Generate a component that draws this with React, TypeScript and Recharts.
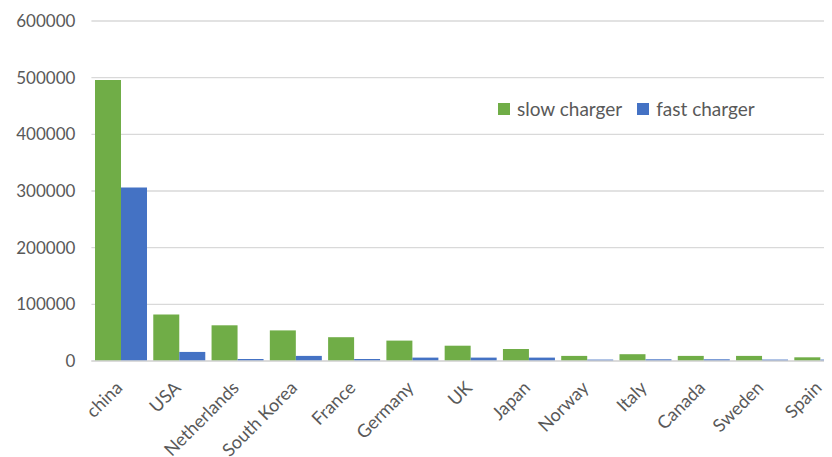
import { BarChart, Bar, XAxis, YAxis, CartesianGrid } from 'recharts';

const countries = ['china', 'USA', 'Netherlands', 'South Korea', 'France', 'Germany', 'UK', 'Japan', 'Norway', 'Italy', 'Canada', 'Sweden', 'Spain'];
const slowCharger = [496000, 82000, 63000, 54000, 42000, 36000, 27000, 21000, 9000, 12000, 9000, 9000, 6500];
const fastCharger = [306000, 16000, 3500, 9000, 3500, 6000, 6000, 6000, 2500, 3000, 3000, 2500, 2500];
const yTicks = [0, 100000, 200000, 300000, 400000, 500000, 600000];

const data = countries.map((name, i) => ({ name, slow: slowCharger[i], fast: fastCharger[i] }));

const FONT = "Lato, 'Open Sans', sans-serif";
const TEXT = '#595959';

const AngledTick = ({ x, y, payload }: any) => (
  <g transform={`translate(${x + 3},${y + 20})`}>
    <text textAnchor="end" transform="rotate(-45)" fill={TEXT} fontSize={18} fontFamily={FONT}>
      {payload.value}
    </text>
  </g>
);

const LegendBox = () => (
  <div
    style={{
      position: 'absolute',
      top: 89,
      left: 490,
      display: 'flex',
      alignItems: 'center',
      fontFamily: FONT,
      fontSize: 19,
      color: TEXT,
      whiteSpace: 'nowrap',
    }}
  >
    <span style={{ width: 12, height: 12, background: '#70AD47', display: 'inline-block', marginRight: 7 }} />
    <span style={{ marginRight: 15 }}>slow charger</span>
    <span style={{ width: 12, height: 12, background: '#4472C4', display: 'inline-block', marginRight: 7 }} />
    <span>fast charger</span>
  </div>
);

export default function App() {
  return (
    <div style={{ position: 'relative', width: 824, height: 449, overflow: 'hidden' }}>
      <BarChart
        width={850}
        height={449}
        data={data}
        margin={{ top: 13, right: 9, left: 0, bottom: 0 }}
        barCategoryGap={3.6}
        barGap={0}
      >
        <CartesianGrid vertical={false} stroke="#D9D9D9" strokeWidth={1.3} />
        <XAxis
          dataKey="name"
          interval={0}
          height={96}
          tick={<AngledTick />}
          tickLine={false}
          axisLine={{ stroke: '#D9D9D9', strokeWidth: 1.3 }}
        />
        <YAxis
          domain={[0, 600000]}
          ticks={yTicks}
          width={83.4}
          axisLine={false}
          tickLine={false}
          tickMargin={10}
          tick={{ fill: TEXT, fontSize: 17, fontFamily: FONT }}
        />
        <Bar dataKey="slow" name="slow charger" fill="#70AD47" isAnimationActive={false} />
        <Bar dataKey="fast" name="fast charger" fill="#4472C4" isAnimationActive={false} />
      </BarChart>
      <LegendBox />
    </div>
  );
}
